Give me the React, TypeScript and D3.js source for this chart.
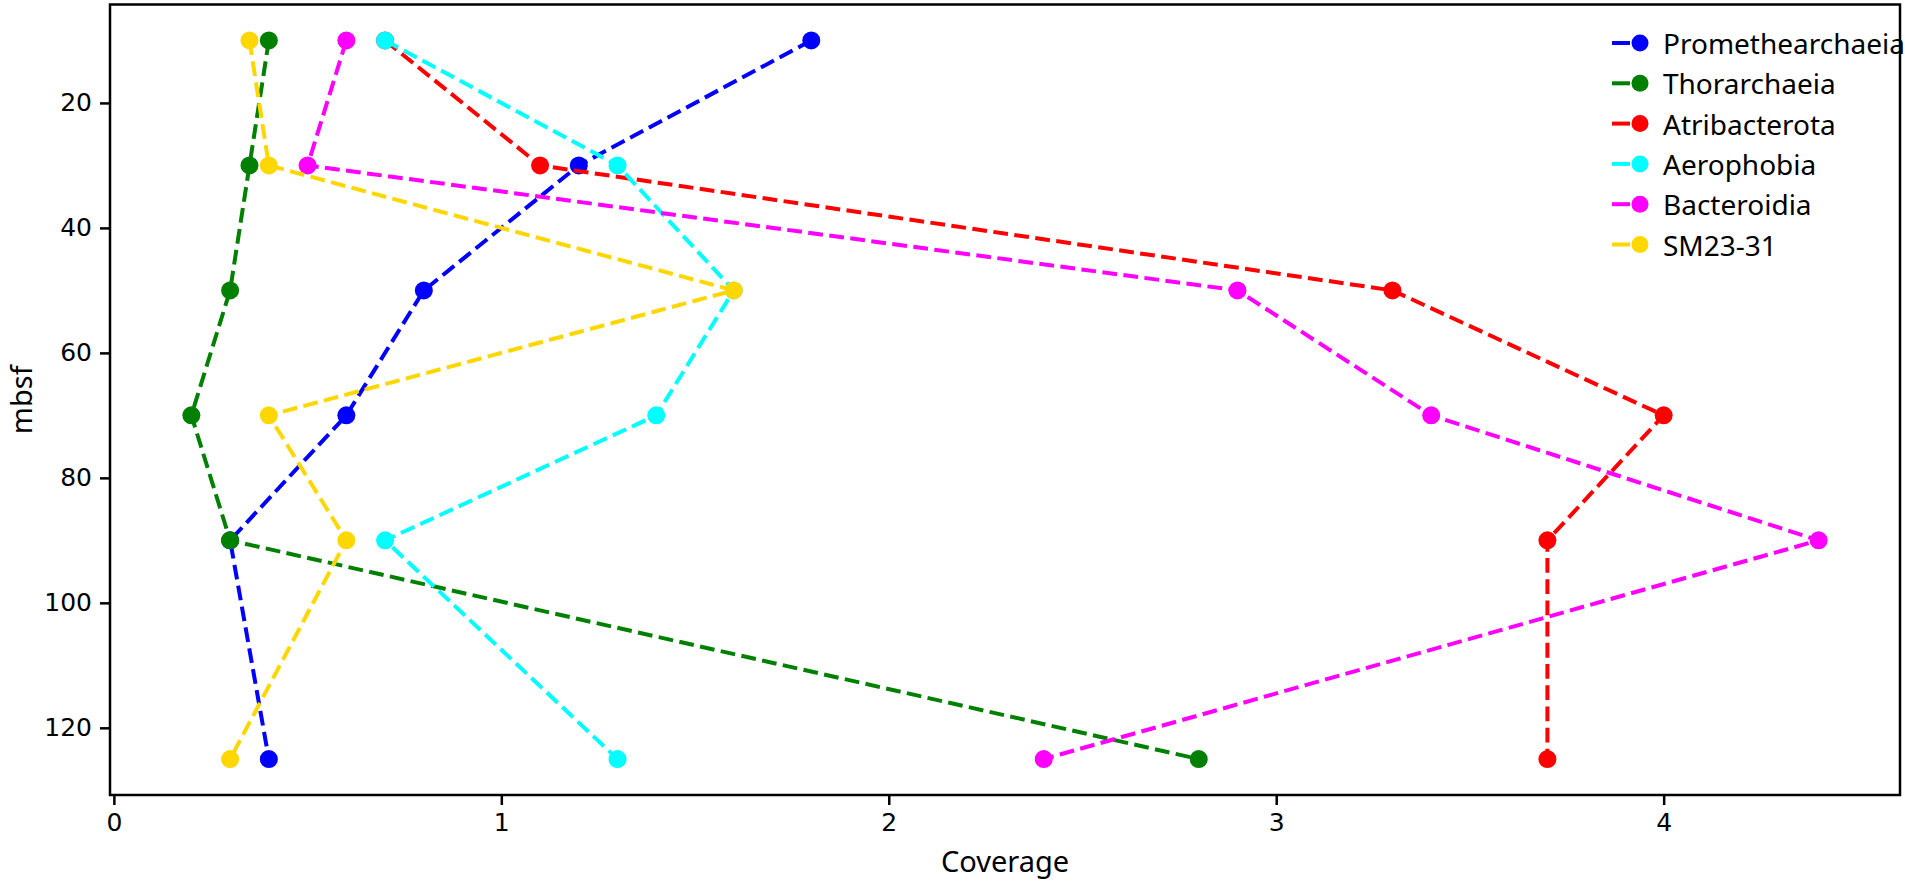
import * as d3 from "d3";
import { useEffect, useRef } from "react";

const depths = [10, 30, 50, 70, 90, 125];

const seriesNames = [
    "Promethearchaeia",
    "Thorarchaeia",
    "Atribacterota",
    "Aerophobia",
    "Bacteroidia",
    "SM23-31",
];

const seriesColors = ["blue", "green", "red", "cyan", "magenta", "gold"];

const promethearchaeia = [1.8, 1.2, 0.8, 0.6, 0.3, 0.4];
const thorarchaeia = [0.4, 0.35, 0.3, 0.2, 0.3, 2.8];
const atribacterota = [0.7, 1.1, 3.3, 4.0, 3.7, 3.7];
const aerophobia = [0.7, 1.3, 1.6, 1.4, 0.7, 1.3];
const bacteroidia = [0.6, 0.5, 2.9, 3.4, 4.4, 2.4];
const sm2331 = [0.35, 0.4, 1.6, 0.4, 0.6, 0.3];

const seriesValues = [promethearchaeia, thorarchaeia, atribacterota, aerophobia, bacteroidia, sm2331];

const xTicks = [0, 1, 2, 3, 4];
const yTicks = [20, 40, 60, 80, 100, 120];

const App = () => {
    const ref = useRef<SVGSVGElement>(null);

    useEffect(() => {
        if (!ref.current) return;
        const svg = d3.select(ref.current);
        svg.selectAll("*").remove();

        const left = 110, right = 1900, top = 4.5, bottom = 795;

        const x = d3.scaleLinear().domain([-0.01, 4.61]).range([left, right]);
        const y = d3.scaleLinear().domain([4.25, 130.75]).range([top, bottom]);

        const tickFont = "DejaVu Sans, sans-serif";
        const labelFont = "Noto Sans, Open Sans, sans-serif";

        // axes
        const xAxis = svg.append("g")
            .attr("transform", `translate(0,${bottom})`)
            .call(d3.axisBottom(x).tickValues(xTicks).tickFormat(d3.format("d")).tickSize(10).tickPadding(8));
        xAxis.select(".domain").remove();
        xAxis.selectAll(".tick line").attr("stroke", "#000").attr("stroke-width", 2.5);
        xAxis.selectAll(".tick text")
            .style("font-family", tickFont)
            .style("font-size", "25px")
            .attr("fill", "#000");

        const yAxis = svg.append("g")
            .attr("transform", `translate(${left},0)`)
            .call(d3.axisLeft(y).tickValues(yTicks).tickFormat(d3.format("d")).tickSize(10).tickPadding(8));
        yAxis.select(".domain").remove();
        yAxis.selectAll(".tick line").attr("stroke", "#000").attr("stroke-width", 2.5);
        yAxis.selectAll(".tick text")
            .style("font-family", tickFont)
            .style("font-size", "25px")
            .attr("fill", "#000");

        // lines and markers
        const line = d3.line<[number, number]>()
            .x((d) => x(d[0]))
            .y((d) => y(d[1]));

        seriesValues.forEach((vals, i) => {
            const pts: [number, number][] = vals.map((v, j) => [v, depths[j]]);
            svg.append("path")
                .datum(pts)
                .attr("d", line)
                .attr("fill", "none")
                .attr("stroke", seriesColors[i])
                .attr("stroke-width", 4)
                .attr("stroke-dasharray", "14.8 6.4");
            svg.append("g")
                .selectAll("circle")
                .data(pts)
                .enter()
                .append("circle")
                .attr("cx", (d) => x(d[0]))
                .attr("cy", (d) => y(d[1]))
                .attr("r", 9)
                .attr("fill", seriesColors[i]);
        });

        // frame
        svg.append("rect")
            .attr("x", left)
            .attr("y", top)
            .attr("width", right - left)
            .attr("height", bottom - top)
            .attr("fill", "none")
            .attr("stroke", "#000")
            .attr("stroke-width", 2.5);

        // axis labels
        svg.append("text")
            .attr("x", (left + right) / 2)
            .attr("y", 872)
            .attr("text-anchor", "middle")
            .style("font-family", labelFont)
            .style("font-size", "29px")
            .text("Coverage");

        svg.append("text")
            .attr("transform", `translate(32,${(top + bottom) / 2}) rotate(-90)`)
            .attr("text-anchor", "middle")
            .style("font-family", labelFont)
            .style("font-size", "29px")
            .text("mbsf");

        // legend
        const legend = svg.append("g");
        seriesNames.forEach((name, i) => {
            const cy = 43 + i * 40.3;
            legend.append("line")
                .attr("x1", 1612).attr("x2", 1630)
                .attr("y1", cy).attr("y2", cy)
                .attr("stroke", seriesColors[i])
                .attr("stroke-width", 4);
            legend.append("circle")
                .attr("cx", 1640).attr("cy", cy)
                .attr("r", 8.5)
                .attr("fill", seriesColors[i]);
            legend.append("text")
                .attr("x", 1663)
                .attr("y", cy)
                .attr("dominant-baseline", "central")
                .style("font-family", labelFont)
                .style("font-size", "28px")
                .text(name);
        });
    }, []);

    return (
        <div style={{ position: "absolute", left: 0, top: 0 }}>
            <svg ref={ref} width={1905} height={882} style={{ display: "block", background: "#fff" }} />
        </div>
    );
};

export default App;
